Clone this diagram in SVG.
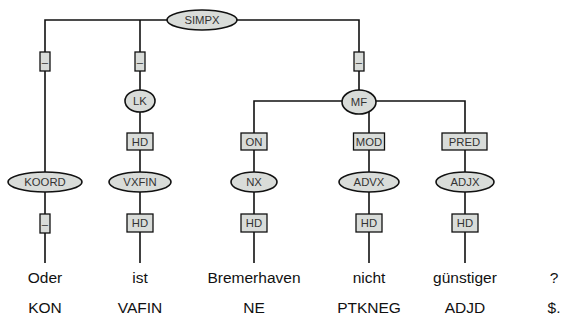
<svg xmlns="http://www.w3.org/2000/svg" width="570" height="320" viewBox="0 0 570 320">
<style>
.ln{fill:none;stroke:#111;stroke-width:1.6}
.el{fill:#d9dcd9;stroke:#111;stroke-width:1.6}
.bx{fill:#d9dcd9;stroke:#111;stroke-width:1.3}
.nt{font-family:"Liberation Sans",Arial,sans-serif;font-size:11.3px;fill:#333;text-anchor:middle}
.et{font-family:"Liberation Sans",Arial,sans-serif;font-size:11.3px;fill:#333;text-anchor:middle}
.wd{font-family:"Liberation Sans",Arial,sans-serif;font-size:15.5px;fill:#111;text-anchor:middle}
</style>
<rect width="570" height="320" fill="#fff"/>
<g id="connectors">
<path class="ln" d="M45,263 V20 H359 V101"/>
<path class="ln" d="M140,20 V263"/>
<path class="ln" d="M254,263 V101 H465 V263"/>
<path class="ln" d="M369,101 V263"/>
</g>
<g id="edge-labels">
<g id="e-koord"><rect class="bx" x="40" y="52" width="10" height="19"/><text class="et" x="45" y="65.5">–</text></g>
<g id="e-lk"><rect class="bx" x="135" y="52" width="10" height="19"/><text class="et" x="140" y="65.5">–</text></g>
<g id="e-mf"><rect class="bx" x="354" y="52" width="10" height="19"/><text class="et" x="359" y="65.5">–</text></g>
<g id="e-vxfin"><rect class="bx" x="127" y="133" width="26" height="17"/><text class="et" x="140" y="145.8">HD</text></g>
<g id="e-nx"><rect class="bx" x="241" y="133" width="26" height="17"/><text class="et" x="254" y="145.8">ON</text></g>
<g id="e-advx"><rect class="bx" x="353.5" y="133" width="31" height="17"/><text class="et" x="369" y="145.8">MOD</text></g>
<g id="e-adjx"><rect class="bx" x="442" y="133" width="45" height="17"/><text class="et" x="464.5" y="145.8">PRED</text></g>
<g id="e-oder"><rect class="bx" x="40" y="214" width="10" height="19"/><text class="et" x="45" y="227.5">–</text></g>
<g id="e-ist"><rect class="bx" x="127" y="214" width="26" height="18"/><text class="et" x="140" y="227.3">HD</text></g>
<g id="e-bremerhaven"><rect class="bx" x="241" y="214" width="26" height="18"/><text class="et" x="254" y="227.3">HD</text></g>
<g id="e-nicht"><rect class="bx" x="356" y="214" width="26" height="18"/><text class="et" x="369" y="227.3">HD</text></g>
<g id="e-guenstiger"><rect class="bx" x="452" y="214" width="26" height="18"/><text class="et" x="465" y="227.3">HD</text></g>
</g>
<g id="simpx"><ellipse class="el" cx="202" cy="20" rx="35" ry="10"/><text class="nt" x="202" y="24">SIMPX</text></g>
<g id="lk"><ellipse class="el" cx="140" cy="101" rx="15" ry="11"/><text class="nt" x="140" y="105">LK</text></g>
<g id="mf"><ellipse class="el" cx="359" cy="102" rx="17" ry="12"/><text class="nt" x="359" y="106">MF</text></g>
<g id="koord"><ellipse class="el" cx="45" cy="182" rx="37" ry="10"/><text class="nt" x="45" y="186">KOORD</text></g>
<g id="vxfin"><ellipse class="el" cx="140" cy="182" rx="31" ry="10"/><text class="nt" x="140" y="186">VXFIN</text></g>
<g id="nx"><ellipse class="el" cx="254" cy="182" rx="23" ry="10"/><text class="nt" x="254" y="186">NX</text></g>
<g id="advx"><ellipse class="el" cx="369" cy="182" rx="30" ry="10"/><text class="nt" x="369" y="186">ADVX</text></g>
<g id="adjx"><ellipse class="el" cx="465" cy="182" rx="29" ry="10"/><text class="nt" x="465" y="186">ADJX</text></g>
<g id="w-oder"><text class="wd" x="45" y="283">Oder</text><text class="wd" x="45" y="313">KON</text></g>
<g id="w-ist"><text class="wd" x="140" y="283">ist</text><text class="wd" x="140" y="313">VAFIN</text></g>
<g id="w-bremerhaven"><text class="wd" x="254" y="283">Bremerhaven</text><text class="wd" x="254" y="313">NE</text></g>
<g id="w-nicht"><text class="wd" x="369" y="283">nicht</text><text class="wd" x="369" y="313">PTKNEG</text></g>
<g id="w-guenstiger"><text class="wd" x="465" y="283">günstiger</text><text class="wd" x="465" y="313">ADJD</text></g>
<g id="w-q"><text class="wd" x="554" y="283">?</text><text class="wd" x="554" y="313">$.</text></g>
</svg>
